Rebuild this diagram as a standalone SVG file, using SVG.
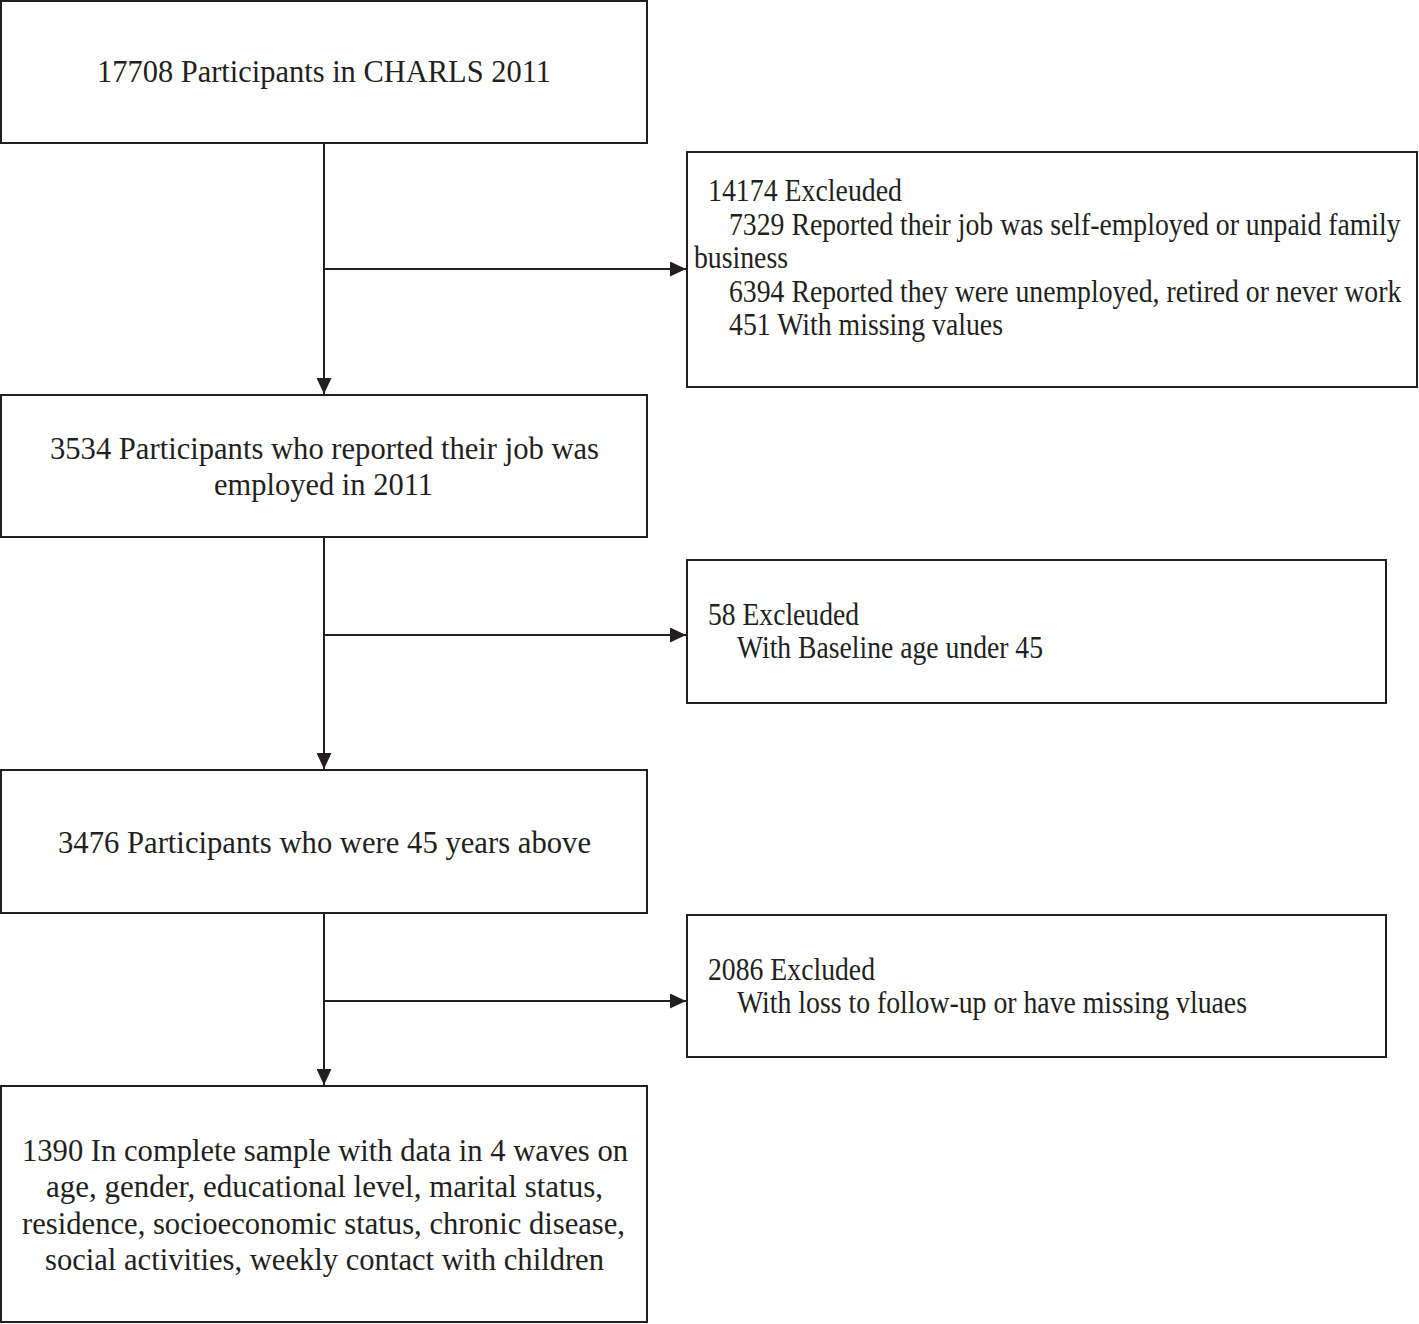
<svg xmlns="http://www.w3.org/2000/svg" width="1419" height="1324" viewBox="0 0 1419 1324">
<style>
.box{fill:#fff;stroke:#231f20;stroke-width:2}
.t{font-family:"Liberation Serif","Times New Roman",serif;font-size:31px;fill:#231f20}
.c{text-anchor:middle}
.ln{stroke:#231f20;stroke-width:2;fill:none}
</style>
<defs>
<marker id="ah" viewBox="0 0 16 15" refX="16" refY="7.5" markerWidth="16" markerHeight="15" markerUnits="userSpaceOnUse" orient="auto">
<path d="M0,0 L16,7.5 L0,15 Z" fill="#231f20"/>
</marker>
</defs>
<rect width="1419" height="1324" fill="#fff"/>
<g id="connectors">
<line class="ln" x1="324" y1="143" x2="324" y2="394" marker-end="url(#ah)"/>
<line class="ln" x1="324" y1="269" x2="686" y2="269" marker-end="url(#ah)"/>
<line class="ln" x1="324" y1="537" x2="324" y2="769" marker-end="url(#ah)"/>
<line class="ln" x1="324" y1="635" x2="686" y2="635" marker-end="url(#ah)"/>
<line class="ln" x1="324" y1="913" x2="324" y2="1085" marker-end="url(#ah)"/>
<line class="ln" x1="324" y1="1001" x2="686" y2="1001" marker-end="url(#ah)"/>
</g>
<g id="n1">
<rect class="box" x="1" y="1" width="646" height="142"/>
<text class="t c" x="324" y="82" textLength="454" lengthAdjust="spacingAndGlyphs">17708 Participants in CHARLS 2011</text>
</g>
<g id="x1">
<rect class="box" x="687" y="152" width="730" height="235"/>
<text class="t" x="708" y="201" textLength="194" lengthAdjust="spacingAndGlyphs">14174 Excleuded</text>
<text class="t" transform="translate(729 235) scale(0.895 1)" x="0" y="0">7329 Reported their job was self-employed or unpaid family</text>
<text class="t" x="694" y="268" textLength="94" lengthAdjust="spacingAndGlyphs">business</text>
<text class="t" transform="translate(729 302) scale(0.895 1)" x="0" y="0">6394 Reported they were unemployed, retired or never work</text>
<text class="t" x="729" y="335" textLength="274" lengthAdjust="spacingAndGlyphs">451 With missing values</text>
</g>
<g id="n2">
<rect class="box" x="1" y="395" width="646" height="142"/>
<text class="t c" x="324.5" y="459" textLength="549" lengthAdjust="spacingAndGlyphs">3534 Participants who reported their job was</text>
<text class="t c" x="323.5" y="495" textLength="219" lengthAdjust="spacingAndGlyphs">employed in 2011</text>
</g>
<g id="x2">
<rect class="box" x="687" y="560" width="699" height="143"/>
<text class="t" x="708" y="625" textLength="151" lengthAdjust="spacingAndGlyphs">58 Excleuded</text>
<text class="t" x="737" y="658" textLength="306" lengthAdjust="spacingAndGlyphs">With Baseline age under 45</text>
</g>
<g id="n3">
<rect class="box" x="1" y="770" width="646" height="143"/>
<text class="t c" x="324.5" y="853" textLength="533" lengthAdjust="spacingAndGlyphs">3476 Participants who were 45 years above</text>
</g>
<g id="x3">
<rect class="box" x="687" y="915" width="699" height="142"/>
<text class="t" x="708" y="980" textLength="167" lengthAdjust="spacingAndGlyphs">2086 Excluded</text>
<text class="t" x="737" y="1013" textLength="510" lengthAdjust="spacingAndGlyphs">With loss to follow-up or have missing vluaes</text>
</g>
<g id="n4">
<rect class="box" x="1" y="1086" width="646" height="236"/>
<text class="t c" x="325" y="1161" textLength="606" lengthAdjust="spacingAndGlyphs">1390 In complete sample with data in 4 waves on</text>
<text class="t c" x="324.5" y="1197" textLength="557" lengthAdjust="spacingAndGlyphs">age, gender, educational level, marital status,</text>
<text class="t c" x="323.5" y="1234" textLength="603" lengthAdjust="spacingAndGlyphs">residence, socioeconomic status, chronic disease,</text>
<text class="t c" x="324.5" y="1270" textLength="559" lengthAdjust="spacingAndGlyphs">social activities, weekly contact with children</text>
</g>
</svg>
